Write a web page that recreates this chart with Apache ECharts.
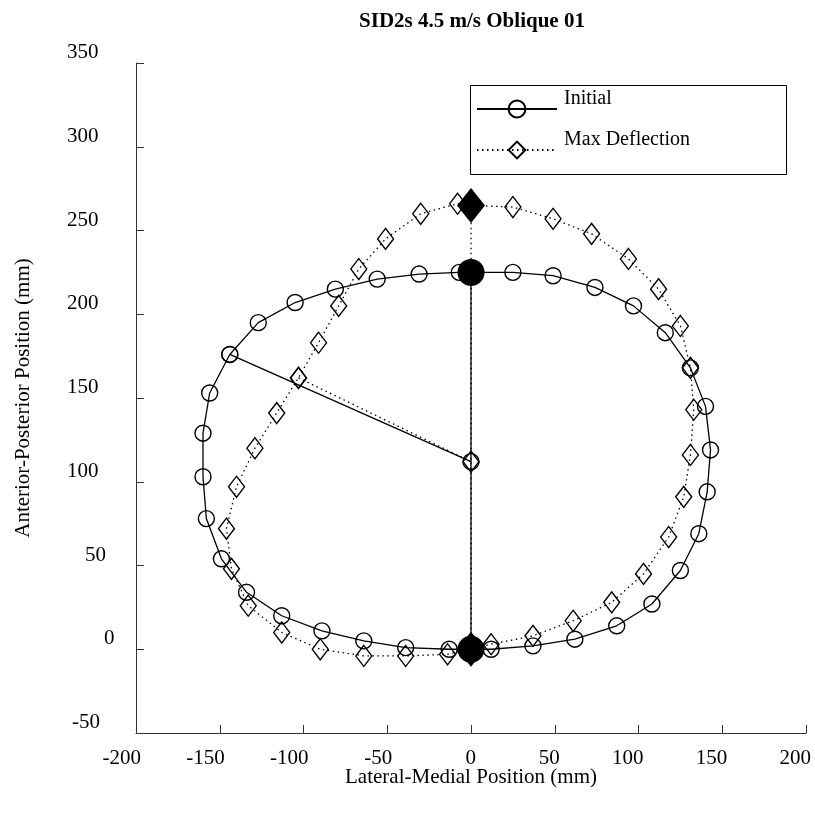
<!DOCTYPE html>
<html>
<head>
<meta charset="utf-8">
<script src="https://cdn.jsdelivr.net/npm/echarts@6/dist/echarts.min.js"></script>
<style>html,body{margin:0;padding:0;background:#fff}#c{width:815px;height:816px}</style>
</head>
<body>
<div id="c"></div>
<script>
// ---- data (mm) ----
const titleText = 'SID2s 4.5 m/s Oblique 01';
const xTicks = [-200, -150, -100, -50, 0, 50, 100, 150, 200];
const yTicks = [-50, 0, 50, 100, 150, 200, 250, 300, 350];

const initialLoop = [[0,225],[25,225],[49,223],[74,216],[97,205],[116,189],[131,168],[140,145],[143,119],[141,94],[136,69],[125,47],[108,27],[87,14],[62,6],[37,2],[12,0],[-13,0],[-39,1],[-64,5],[-89,11],[-113,20],[-134,34],[-149,54],[-158,78],[-160,103],[-160,129],[-156,153],[-144,176],[-127,195],[-105,207],[-81,215],[-56,221],[-31,224],[-7,225],[0,225]];
const deflLoop = [[0,265],[25,264],[49,257],[72,248],[94,233],[112,215],[125,193],[131,168],[133,143],[131,116],[127,91],[118,67],[103,45],[84,28],[61,17],[37,8],[12,3],[-14,-3],[-39,-4],[-64,-4],[-90,0],[-113,10],[-133,26],[-143,48],[-146,72],[-140,97],[-129,120],[-116,141],[-103,162],[-91,183],[-79,205],[-67,227],[-51,245],[-30,260],[-8,266],[0,265]];
const initialAxis = [[0,0],[0,225]];
const deflAxis = [[0,0],[0,265]];
const initialRadius = [[-144,176],[0,112]];
const deflRadius = [[-103,162],[0,112]];
const initialEnds = [[0,225],[0,0]];
const deflEnds = [[0,265],[0,0]];

const FONT = 'Liberation Serif';
const chart = echarts.init(document.getElementById('c'), null, {renderer: 'canvas'});

const yPad = {'50': 18, '0': 37, '-50': 5};
const yRich = {n: {fontFamily: FONT, fontSize: 21, color: '#000', padding: [0,0,0,0]}};
Object.keys(yPad).forEach(function (k) {
  yRich['p' + k.replace('-', 'm')] = {fontFamily: FONT, fontSize: 21, color: '#000', padding: [0,0,0,yPad[k]]};
});

const dotted = [1.5, 3.5];
const hollow = {color: 'rgba(0,0,0,0)', borderColor: '#000', borderWidth: 1.4, opacity: 1};

const option = {
  backgroundColor: '#fff',
  animation: false,
  title: {
    text: titleText, left: 467, top: 6, textAlign: 'center',
    textStyle: {fontFamily: FONT, fontSize: 21, fontWeight: 'bold', color: '#000'}
  },
  legend: {
    left: 476, top: 89, padding: 0, orient: 'vertical', itemWidth: 80, itemHeight: 21, itemGap: 6,
    selectedMode: false, data: ['Initial', 'Max Deflection'],
    formatter: function (name) { return '{t|' + name + '}\n{s| }'; },
    textStyle: {fontFamily: FONT, fontSize: 20, color: '#000', padding: [0,0,0,2],
      rich: {
        t: {fontFamily: FONT, fontSize: 20, color: '#000', lineHeight: 20},
        s: {fontFamily: FONT, fontSize: 10, color: '#000', lineHeight: 20}
      }}
  },
  graphic: [{
    type: 'rect', left: 468, top: 83, z: 100,
    shape: {width: 316, height: 89},
    style: {fill: 'none', stroke: '#000', lineWidth: 1}
  }],
  grid: [
    {left: 136, right: 9, top: 63, bottom: 83},
    {left: 141, right: 4, top: 63, bottom: 83, show: false}
  ],
  xAxis: [{
    type: 'value', gridIndex: 0, min: -200, max: 200, interval: 50,
    name: 'Lateral-Medial Position (mm)', nameLocation: 'middle', nameGap: 34,
    nameTextStyle: {fontFamily: FONT, fontSize: 21, color: '#000'},
    axisLine: {show: true, onZero: false, lineStyle: {color: '#333', width: 1}},
    axisTick: {show: true, inside: true, length: 8, lineStyle: {color: '#333', width: 1}},
    axisLabel: {show: false},
    splitLine: {show: false}
  }, {
    type: 'value', gridIndex: 1, min: -200, max: 200, interval: 50,
    axisLine: {show: false, onZero: false}, axisTick: {show: false}, splitLine: {show: false},
    axisLabel: {show: true, align: 'right', margin: 15, fontFamily: FONT, fontSize: 21, color: '#000',
      formatter: function (v) { return xTicks.indexOf(v) >= 0 ? String(v) : ''; }}
  }],
  yAxis: [{
    type: 'value', gridIndex: 0, min: -50, max: 350, interval: 50,
    name: 'Anterior-Posterior Position (mm)', nameLocation: 'middle', nameGap: 102,
    nameTextStyle: {fontFamily: FONT, fontSize: 21, color: '#000'},
    axisLine: {show: true, onZero: false, lineStyle: {color: '#333', width: 1}},
    axisTick: {show: true, inside: true, length: 8, lineStyle: {color: '#333', width: 1}},
    axisLabel: {show: true, align: 'left', verticalAlign: 'bottom', margin: 69,
      fontFamily: FONT, fontSize: 21, color: '#000', rich: yRich,
      formatter: function (v) {
        if (yTicks.indexOf(v) < 0) return '';
        const k = String(v);
        const key = yPad[k] !== undefined ? 'p' + k.replace('-', 'm') : 'n';
        return '{' + key + '|' + k + '}';
      }},
    splitLine: {show: false}
  }, {
    type: 'value', gridIndex: 1, min: -50, max: 350, interval: 50, show: false
  }],
  series: [
    {name: 'Initial', type: 'line', data: initialLoop, symbol: 'circle', symbolSize: 16,
      itemStyle: hollow, lineStyle: {color: '#000', width: 1.3, type: 'solid'}, z: 3},
    {name: 'Max Deflection', type: 'line', data: deflLoop, symbol: 'diamond', symbolSize: [16, 21],
      itemStyle: hollow, lineStyle: {color: '#000', width: 1.3, type: dotted}, z: 3},
    {name: 'initAxis', type: 'line', data: initialAxis, symbol: 'none',
      lineStyle: {color: '#000', width: 1.3, type: 'solid'}, z: 2},
    {name: 'deflAxis', type: 'line', data: deflAxis, symbol: 'none',
      lineStyle: {color: '#000', width: 1.3, type: dotted}, z: 2},
    {name: 'initRadius', type: 'line', data: initialRadius, symbol: 'circle', symbolSize: 16,
      itemStyle: hollow, lineStyle: {color: '#000', width: 1.3, type: 'solid'}, z: 3},
    {name: 'deflRadius', type: 'line', data: deflRadius, symbol: 'diamond', symbolSize: [16, 21],
      itemStyle: hollow, lineStyle: {color: '#000', width: 1.3, type: dotted}, z: 3},
    {name: 'initEnds', type: 'scatter', data: initialEnds, symbol: 'circle', symbolSize: 27,
      itemStyle: {color: '#000', opacity: 1}, z: 5},
    {name: 'deflEnds', type: 'scatter', data: deflEnds, symbol: 'diamond', symbolSize: [28, 35],
      itemStyle: {color: '#000', opacity: 1}, z: 5}
  ]
};
chart.setOption(option);
</script>
</body>
</html>
